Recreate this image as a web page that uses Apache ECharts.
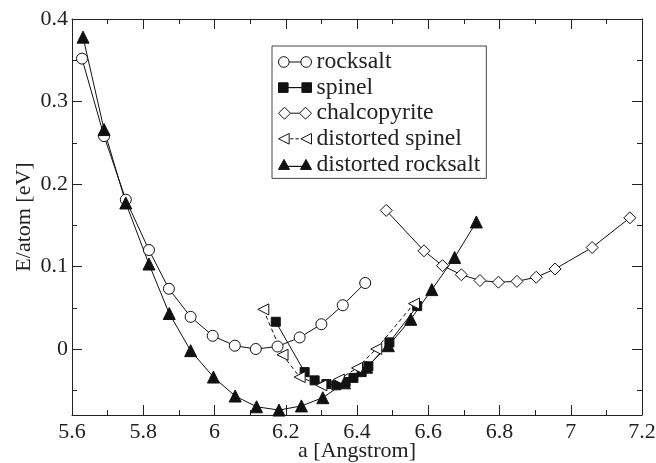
<!DOCTYPE html>
<html>
<head>
<meta charset="utf-8">
<script src="https://cdn.jsdelivr.net/npm/echarts@6/dist/echarts.min.js"></script>
<style>
html,body{margin:0;padding:0;background:#fff;}
#chart{width:656px;height:463px;}
</style>
</head>
<body>
<div id="chart"></div>
<script>
// ---- data ----
var rocksaltA = [5.628,5.690,5.751,5.816,5.872,5.933,5.995,6.057,6.116,6.177,6.239,6.300,6.360,6.423];
var rocksaltE = [0.352,0.258,0.181,0.120,0.073,0.039,0.016,0.004,0.000,0.003,0.014,0.030,0.053,0.080];

var spinelA = [6.172,6.253,6.281,6.314,6.342,6.368,6.390,6.413,6.432,6.491,6.569];
var spinelE = [0.033,-0.028,-0.038,-0.0425,-0.044,-0.040,-0.035,-0.028,-0.021,0.008,0.052];

var chalcoA = [6.482,6.588,6.640,6.693,6.745,6.797,6.849,6.903,6.956,7.060,7.166];
var chalcoE = [0.168,0.119,0.101,0.090,0.083,0.081,0.082,0.087,0.097,0.123,0.159];

var dspinelA = [6.137,6.191,6.239,6.300,6.349,6.400,6.454,6.560];
var dspinelE = [0.048,-0.007,-0.034,-0.044,-0.037,-0.023,0.000,0.055];

var drockA = [5.631,5.690,5.751,5.816,5.873,5.933,5.997,6.058,6.118,6.181,6.244,6.304,6.365,6.427,6.488,6.551,6.610,6.674,6.735];
var drockE = [0.378,0.266,0.177,0.103,0.043,-0.002,-0.034,-0.057,-0.070,-0.074,-0.069,-0.059,-0.041,-0.022,0.004,0.036,0.072,0.111,0.154];

var seriesNames = ['rocksalt','spinel','chalcopyrite','distorted spinel','distorted rocksalt'];
var yMajorTicks = [0,0.1,0.2,0.3,0.4];
var yMinorTicks = [-0.05,0.05,0.15,0.25,0.35];
var xMin = 5.6, xMax = 7.2, xStep = 0.2;
var yMin = -0.08, yMax = 0.4;

function zip(a, b){ return a.map(function(v,i){ return [v, b[i]]; }); }

var FONT = '"Liberation Serif", "Times New Roman", serif';
var INK = '#222';
var leftTri = 'path://M0,5 L10,0 L10,10 Z';

var icons = {
  rocksalt: 'path://M1,6 A5,5 0 1,1 11,6 A5,5 0 1,1 1,6 Z M11,6 L22,6 M22,6 A5,5 0 1,1 32,6 A5,5 0 1,1 22,6 Z',
  spinel: 'path://M1,1 L10,1 L10,10 L1,10 Z M10,5.5 L23,5.5 L10,5.5 Z M23,1 L32,1 L32,10 L23,10 Z',
  chalcopyrite: 'path://M0,6 L6,0 L12,6 L6,12 Z M12,6 L21,6 M21,6 L27,0 L33,6 L27,12 Z',
  dspinel: 'path://M1,6 L11,1 L11,11 Z M12,6 L15,6 M17,6 L20,6 M22,6 L32,1 L32,11 Z',
  drock: 'path://M0,11 L5.5,1 L11,11 Z M5.5,8 L27.5,8 L5.5,8 Z M22,11 L27.5,1 L33,11 Z'
};

var chart = echarts.init(document.getElementById('chart'), null, {renderer:'canvas'});

var axisLine = {show:true, onZero:false, lineStyle:{color:INK, width:1}};
var axisLineHidden = {show:false, onZero:false};

var option = {
  animation: false,
  backgroundColor: '#fff',
  grid: {left:72, right:14, top:19, bottom:48, containLabel:false, outerBoundsMode:'none'},
  legend: {
    orient: 'vertical',
    left: 272, top: 46,
    padding: [4, 6, 2, 6],
    itemGap: 1.6,
    itemWidth: 33, itemHeight: 12,
    selectedMode: false,
    backgroundColor: '#fff',
    borderColor: '#444', borderWidth: 1, borderRadius: 0,
    textStyle: {fontFamily: FONT, fontSize: 23.7, color: INK, lineHeight: 22},
    data: [
      {name: seriesNames[0], icon: icons.rocksalt, itemStyle:{color:'#fff', borderColor:'#111', borderWidth:1}},
      {name: seriesNames[1], icon: icons.spinel, itemStyle:{color:'#111', borderColor:'#111', borderWidth:1}},
      {name: seriesNames[2], icon: icons.chalcopyrite, itemStyle:{color:'#fff', borderColor:'#111', borderWidth:1}},
      {name: seriesNames[3], icon: icons.dspinel, itemStyle:{color:'#fff', borderColor:'#111', borderWidth:1}},
      {name: seriesNames[4], icon: icons.drock, itemStyle:{color:'#111', borderColor:'#111', borderWidth:1}}
    ]
  },
  xAxis: [
    {
      type:'value', position:'bottom', min:xMin, max:xMax, interval:xStep,
      axisLine: axisLine,
      axisTick: {show:true, inside:true, length:10, lineStyle:{color:INK}},
      minorTick: {show:true, splitNumber:2, length:5, lineStyle:{color:INK}},
      splitLine: {show:false},
      axisLabel: {fontFamily:FONT, fontSize:22, color:INK, margin:6},
      name: 'a [Angstrom]', nameLocation:'middle', nameGap:25, nameMoveOverlap:false,
      nameTextStyle: {fontFamily:FONT, fontSize:22, color:INK}
    },
    {
      type:'value', position:'top', min:xMin, max:xMax, interval:xStep,
      axisLine: axisLine,
      axisTick: {show:true, inside:true, length:10, lineStyle:{color:INK}},
      minorTick: {show:true, splitNumber:2, length:5, lineStyle:{color:INK}},
      splitLine: {show:false},
      axisLabel: {show:false}
    }
  ],
  yAxis: [
    {
      type:'value', position:'left', min:yMin, max:yMax,
      axisLine: axisLine,
      axisTick: {show:true, inside:true, length:10, customValues:yMajorTicks, lineStyle:{color:INK}},
      splitLine: {show:false},
      axisLabel: {fontFamily:FONT, fontSize:22, color:INK, margin:4, customValues:yMajorTicks},
      name: 'E/atom [eV]', nameLocation:'middle', nameGap:37, nameMoveOverlap:false,
      nameTextStyle: {fontFamily:FONT, fontSize:22, color:INK}
    },
    {
      type:'value', position:'left', min:yMin, max:yMax,
      axisLine: axisLineHidden,
      axisTick: {show:true, inside:true, length:5, customValues:yMinorTicks, lineStyle:{color:INK}},
      splitLine: {show:false},
      axisLabel: {show:false}
    },
    {
      type:'value', position:'right', min:yMin, max:yMax,
      axisLine: axisLine,
      axisTick: {show:true, inside:true, length:10, customValues:yMajorTicks, lineStyle:{color:INK}},
      splitLine: {show:false},
      axisLabel: {show:false}
    },
    {
      type:'value', position:'right', min:yMin, max:yMax,
      axisLine: axisLineHidden,
      axisTick: {show:true, inside:true, length:5, customValues:yMinorTicks, lineStyle:{color:INK}},
      splitLine: {show:false},
      axisLabel: {show:false}
    }
  ],
  series: [
    {
      name: seriesNames[0], type:'line', data: zip(rocksaltA, rocksaltE),
      symbol:'circle', symbolSize:11,
      lineStyle:{color:'#111', width:1},
      itemStyle:{color:'#fff', borderColor:'#111', borderWidth:1}
    },
    {
      name: seriesNames[1], type:'line', data: zip(spinelA, spinelE),
      symbol:'rect', symbolSize:9,
      lineStyle:{color:'#111', width:1},
      itemStyle:{color:'#111', borderColor:'#111', borderWidth:1}
    },
    {
      name: seriesNames[2], type:'line', data: zip(chalcoA, chalcoE),
      symbol:'diamond', symbolSize:12,
      lineStyle:{color:'#111', width:1},
      itemStyle:{color:'#fff', borderColor:'#111', borderWidth:1}
    },
    {
      name: seriesNames[3], type:'line', data: zip(dspinelA, dspinelE),
      symbol: leftTri, symbolSize:11,
      lineStyle:{color:'#111', width:1, type:[4,3]},
      itemStyle:{color:'#fff', borderColor:'#111', borderWidth:1}
    },
    {
      name: seriesNames[4], type:'line', data: zip(drockA, drockE),
      symbol:'triangle', symbolSize:12,
      lineStyle:{color:'#111', width:1},
      itemStyle:{color:'#111', borderColor:'#111', borderWidth:1}
    }
  ]
};
chart.setOption(option);
</script>
</body>
</html>
